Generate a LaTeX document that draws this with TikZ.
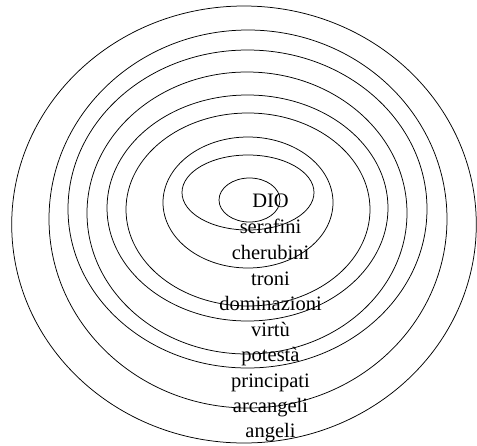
\documentclass[tikz,border=0pt]{standalone}
\usepackage{fontspec}
\setmainfont{Liberation Serif}
\begin{document}
\begin{tikzpicture}[x=1pt,y=-1pt,
  ring/.style={draw=black,line width=0.75pt},
  lbl/.style={anchor=base,inner sep=0pt,font=\fontsize{20.5pt}{24pt}\selectfont}]
\useasboundingbox (0,0) rectangle (477,445);
% rings, inner to outer
\draw[ring] (249.5,200)   ellipse [x radius=30.5pt, y radius=22pt];
\draw[ring] (248,192.5)   ellipse [x radius=66pt,   y radius=37.5pt];
\draw[ring] (248,202.5)   ellipse [x radius=85pt,   y radius=65.5pt];
\draw[ring] (248,209.5)   ellipse [x radius=122pt,  y radius=96.5pt];
\draw[ring] (247.5,208)   ellipse [x radius=140.5pt,y radius=113pt];
\draw[ring] (247,213)     ellipse [x radius=160pt,  y radius=141pt];
\draw[ring] (247.5,209)   ellipse [x radius=179.5pt,y radius=159pt];
\draw[ring] (248,219)     ellipse [x radius=199pt,  y radius=189pt];
\draw[ring] (244,224.5)   ellipse [x radius=232.3pt,y radius=218.5pt];
% labels
\node[lbl] (dio)  at (270.5,207.7) {DIO};
\node[lbl] (sera) at (270.5,233.3) {serafini};
\node[lbl] (cher) at (270.5,259)   {cherubini};
\node[lbl] (tron) at (270.5,285)   {troni};
\node[lbl] (domi) at (270.5,310)   {dominazioni};
\node[lbl] (virt) at (270.5,336)   {virtù};
\node[lbl] (pote) at (270.5,361.7) {potestà};
\node[lbl] (prin) at (270.5,387.3) {principati};
\node[lbl] (arca) at (270.5,412.7) {arcangeli};
\node[lbl] (ange) at (270.5,437.7) {angeli};
\end{tikzpicture}
\end{document}
